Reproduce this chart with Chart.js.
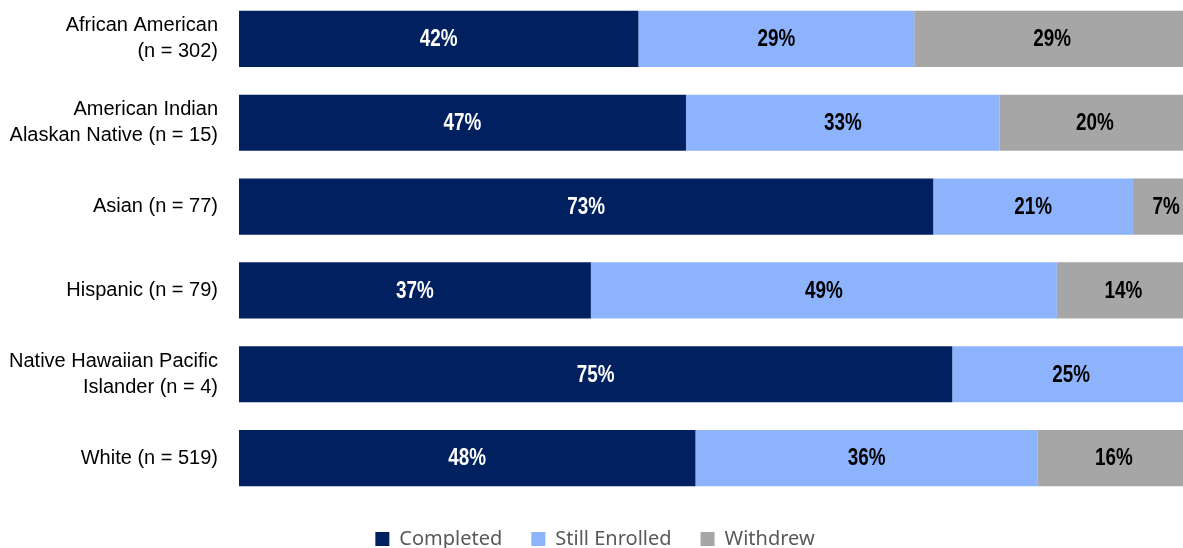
<!DOCTYPE html>
<html>
<head>
<meta charset="utf-8">
<script src="https://cdn.jsdelivr.net/npm/chart.js@4"></script>
<style>
  html, body { margin: 0; padding: 0; background: #fff; overflow: hidden; }
  #wrap { position: absolute; left: 0; top: -3px; width: 1190px; height: 562px; }
</style>
</head>
<body>
<div id="wrap"><canvas id="raceChart"></canvas></div>
<script>
const groups = [
  ["African American", "(n = 302)"],
  ["American Indian", "Alaskan Native (n = 15)"],
  "Asian (n = 77)",
  "Hispanic (n = 79)",
  ["Native Hawaiian Pacific", "Islander (n = 4)"],
  "White (n = 519)"
];
const completed = [42, 47, 73, 37, 75, 48];
const stillEnrolled = [29, 33, 21, 49, 25, 36];
const withdrew = [29, 20, 7, 14, 0, 16];

const navy = "#002060";
const lightBlue = "#8db3fd";
const grey = "#a6a6a6";

// draws the "42%" text inside each bar segment (squeezed to look like a narrow font)
const barLabels = {
  id: "barLabels",
  afterDatasetsDraw(chart) {
    const ctx = chart.ctx;
    chart.data.datasets.forEach((ds, i) => {
      const meta = chart.getDatasetMeta(i);
      meta.data.forEach((bar, j) => {
        const v = ds.data[j];
        if (!v) return;
        ctx.save();
        ctx.font = "bold 23px 'Liberation Sans', Arial, sans-serif";
        ctx.textAlign = "center";
        ctx.textBaseline = "middle";
        ctx.fillStyle = i === 0 ? "#ffffff" : "#000000";
        ctx.translate((bar.x + bar.base) / 2, bar.y + 1);
        ctx.scale(0.82, 1);
        ctx.fillText(v + "%", 0, 0);
        ctx.restore();
      });
    });
  }
};

new Chart(document.getElementById("raceChart"), {
  type: "bar",
  data: {
    labels: groups,
    datasets: [
      { label: "Completed", data: completed, backgroundColor: navy },
      { label: "Still Enrolled", data: stillEnrolled, backgroundColor: lightBlue },
      { label: "Withdrew", data: withdrew, backgroundColor: grey }
    ]
  },
  options: {
    indexAxis: "y",
    responsive: true,
    maintainAspectRatio: false,
    animation: false,
    layout: { padding: 0 },
    datasets: {
      bar: { categoryPercentage: 0.67, barPercentage: 1, borderWidth: 0 }
    },
    scales: {
      x: {
        stacked: true,
        min: 0,
        max: 100,
        display: false
      },
      y: {
        stacked: true,
        grid: { display: false, drawTicks: false },
        border: { display: false },
        ticks: {
          color: "#000",
          padding: 21,
          font: { family: "'Liberation Sans', Arial, sans-serif", size: 20, lineHeight: 1.3 }
        },
        afterFit(scale) {
          scale.width = 239;
          scale.paddingTop = 0;
          scale.paddingBottom = 0;
        }
      }
    },
    plugins: {
      tooltip: { enabled: false },
      legend: {
        position: "bottom",
        labels: {
          boxWidth: 14,
          boxHeight: 14,
          padding: 29,
          color: "#595959",
          font: { family: "'Noto Sans', 'Open Sans', sans-serif", size: 20 }
        }
      }
    }
  },
  plugins: [barLabels]
});
</script>
</body>
</html>
